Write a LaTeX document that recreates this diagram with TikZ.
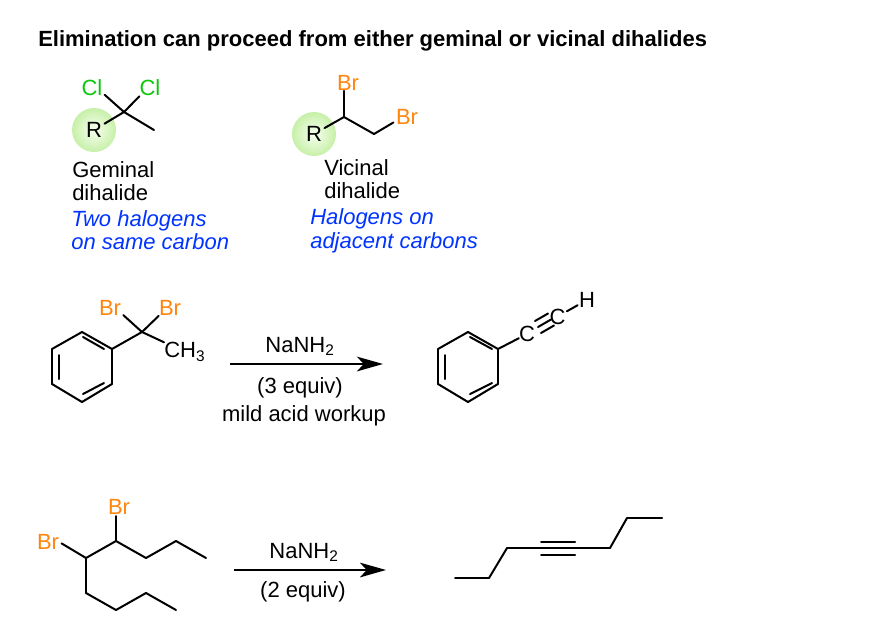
\documentclass[tikz,border=0pt]{standalone}
\usepackage{fontspec}
\setmainfont{Liberation Sans}
\usetikzlibrary{arrows.meta}
\definecolor{clgreen}{rgb}{0.05,0.78,0.05}
\definecolor{brorange}{rgb}{1,0.52,0.05}
\definecolor{noteblue}{rgb}{0,0.2,1}
\definecolor{haloin}{rgb}{0.97,1,0.94}
\definecolor{haloout}{rgb}{0.78,0.94,0.66}
\tikzstyle{atom}=[inner sep=0pt,font=\fontsize{16.5}{20}\selectfont]
\tikzstyle{cl}=[atom,text=clgreen]
\tikzstyle{br}=[atom,text=brorange]
\tikzstyle{bond}=[-,line width=1.5pt,line cap=round,line join=round]
\tikzstyle{halo}=[circle,minimum size=33pt,inner sep=0pt,shade,inner color=haloin,outer color=haloout]
\tikzstyle{caption}=[anchor=west,align=left,inner sep=0pt,font=\fontsize{16.5}{17.6}\selectfont]
\tikzstyle{note}=[caption,text=noteblue,font=\fontsize{16.5}{17.6}\selectfont\itshape]
\tikzstyle{reagent}=[inner sep=0pt,font=\fontsize{16.5}{20}\selectfont]
\tikzstyle{rxn}=[-{Stealth[length=19.5pt,width=11pt,inset=5pt]},line width=1.8pt]

\begin{document}
\begin{tikzpicture}[x=0.75pt,y=-0.75pt]
	\useasboundingbox (0,0) rectangle (880,632);
	\node[anchor=base west,inner sep=0pt,font=\fontsize{16.5}{20}\selectfont\bfseries] (title) at (38,46) {Elimination can proceed from either geminal or vicinal dihalides};

	% geminal
	\node[halo] (h1) at (94,130) {};
	\node[atom] (r1) at (94,130) {R};
	\node[cl] (cl1) at (92,88) {Cl};
	\node[cl] (cl2) at (150,88) {Cl};
	\coordinate (g1) at (124,112);
	\coordinate (g2) at (154,130);
	\path[bond]
		(g1) edge[shorten >=2pt] (cl1.-25)
		(g1) edge (cl2.south west)
		(g1) edge (g2)
		(g1) edge[shorten >=2pt] (r1);
	\node[caption] (gemtxt) at (72,181) {Geminal\\dihalide};
	\node[note] (gemnote) at (71,230) {Two halogens\\on same carbon};

	% vicinal
	\node[halo] (h2) at (314,134) {};
	\node[atom] (r2) at (314,134) {R};
	\node[br] (br1) at (348,83) {Br};
	\node[br] (br2) at (407,117) {Br};
	\coordinate (v1) at (344,117);
	\coordinate (v2) at (374,134);
	\path[bond]
		(v1) edge (br1.south -| v1)
		(v1) edge (v2)
		(v2) edge[shorten >=2pt] (br2.200)
		(v1) edge[shorten >=2pt] (r2);
	\node[caption] (victxt) at (324,179) {Vicinal\\dihalide};
	\node[note] (vicnote) at (310,231) {Halogens on\\adjacent carbons};

	% first reaction, left side
	\coordinate (a1) at (82,332);
	\coordinate (a2) at (112,349);
	\coordinate (a3) at (112,384);
	\coordinate (a4) at (82,402);
	\coordinate (a5) at (52,384);
	\coordinate (a6) at (52,349);
	\coordinate (a7) at (83,337);
	\coordinate (a8) at (104,349);
	\coordinate (a9) at (83,394);
	\coordinate (a10) at (104,383);
	\coordinate (a11) at (59,355);
	\coordinate (a12) at (59,379);
	\coordinate (a13) at (142,332);
	\node[br] (br3) at (110,308) {Br};
	\node[br] (br4) at (170,308) {Br};
	\node[atom,anchor=west] (me) at (164,352) {CH\textsubscript{3}};
	\path[bond]
		(a1) edge (a2) (a2) edge (a3) (a3) edge (a4)
		(a4) edge (a5) (a5) edge (a6) (a6) edge (a1)
		(a7) edge (a8) (a9) edge (a10) (a11) edge (a12)
		(a2) edge (a13)
		(a13) edge[shorten >=2pt] (br3.-25)
		(a13) edge (br4.south west)
		(a13) edge (me.north west);

	% first reaction, arrow
	\coordinate (s1) at (230,364);
	\coordinate (s2) at (383,364);
	\path (s1) edge[rxn] (s2);
	\node[reagent] (naa) at (300,346.5) {NaNH\textsubscript{2}};
	\node[reagent] (eqa) at (300,387.5) {(3 equiv)};
	\node[reagent] (wrk) at (304,415.5) {mild acid workup};

	% first reaction, right side
	\coordinate (b1) at (468,332);
	\coordinate (b2) at (498,349);
	\coordinate (b3) at (498,384);
	\coordinate (b4) at (468,402);
	\coordinate (b5) at (438,384);
	\coordinate (b6) at (438,349);
	\coordinate (b7) at (470,337);
	\coordinate (b8) at (492,349);
	\coordinate (b9) at (470,394);
	\coordinate (b10) at (492,383);
	\coordinate (b11) at (445,355);
	\coordinate (b12) at (445,379);
	\node[atom] (c1) at (527,334) {C};
	\node[atom] (c2) at (557.5,316.5) {C};
	\node[atom] (h) at (587,300) {H};
	\coordinate (t1) at (538,327);
	\coordinate (t2) at (551,319.5);
	\coordinate (t3) at (535,321);
	\coordinate (t4) at (548,313.5);
	\coordinate (t5) at (541,333);
	\coordinate (t6) at (554,325.5);
	\path[bond]
		(b1) edge (b2) (b2) edge (b3) (b3) edge (b4)
		(b4) edge (b5) (b5) edge (b6) (b6) edge (b1)
		(b7) edge (b8) (b9) edge (b10) (b11) edge (b12)
		(b2) edge (c1)
		(c2) edge[shorten <=1pt,shorten >=1pt] (h)
		(t1) edge (t2) (t3) edge (t4) (t5) edge (t6);

	% second reaction, left side
	\node[br] (br5) at (119,507) {Br};
	\node[br] (br6) at (48,542) {Br};
	\coordinate (d1) at (116,541);
	\coordinate (d2) at (86,558);
	\coordinate (d3) at (146,558);
	\coordinate (d4) at (176,541);
	\coordinate (d5) at (206,558);
	\coordinate (d6) at (86,593);
	\coordinate (d7) at (116,610);
	\coordinate (d8) at (146,593);
	\coordinate (d9) at (176,610);
	\path[bond]
		(d1) edge[shorten >=1pt] (br5.south -| d1)
		(d2) edge[shorten >=2pt] (br6.east)
		(d1) edge (d2) (d1) edge (d3) (d3) edge (d4) (d4) edge (d5)
		(d2) edge (d6) (d6) edge (d7) (d7) edge (d8) (d8) edge (d9);

	% second reaction, arrow
	\coordinate (s3) at (234,570);
	\coordinate (s4) at (386,570);
	\path (s3) edge[rxn] (s4);
	\node[reagent] (nab) at (304,552.5) {NaNH\textsubscript{2}};
	\node[reagent] (eqb) at (303,591.5) {(2 equiv)};

	% second reaction, right side
	\coordinate (e1) at (455,578);
	\coordinate (e2) at (489,578);
	\coordinate (e3) at (507,548);
	\coordinate (e4) at (541,548);
	\coordinate (e5) at (575,548);
	\coordinate (e6) at (610,548);
	\coordinate (e7) at (627,518);
	\coordinate (e8) at (662,518);
	\coordinate (e9) at (541,541.5);
	\coordinate (e10) at (575,541.5);
	\coordinate (e11) at (541,555);
	\coordinate (e12) at (575,555);
	\path[bond]
		(e1) edge (e2) (e2) edge (e3) (e3) edge (e4) (e4) edge (e5)
		(e5) edge (e6) (e6) edge (e7) (e7) edge (e8)
		(e9) edge (e10) (e11) edge (e12);
\end{tikzpicture}
\end{document}
